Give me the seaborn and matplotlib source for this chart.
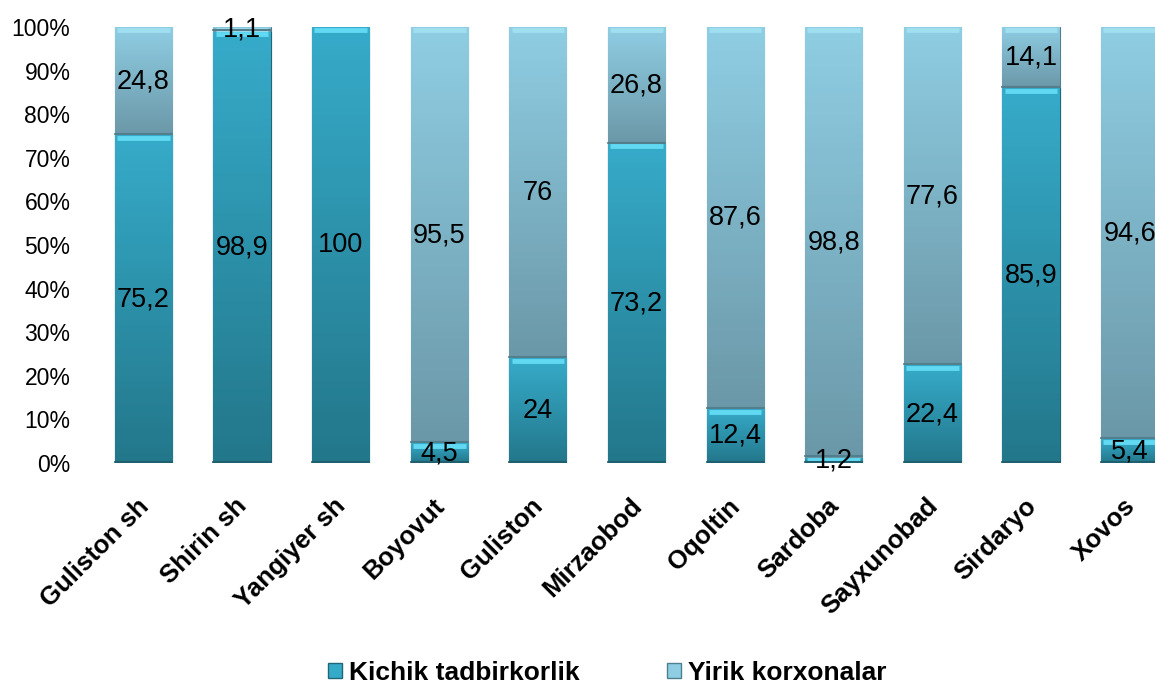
import numpy as np
import pandas as pd
import matplotlib
matplotlib.use('Agg')
import matplotlib.pyplot as plt
import matplotlib.transforms as mtransforms
from matplotlib.colors import LinearSegmentedColormap
from matplotlib.patches import Patch
import seaborn as sns

# ------------------------------------------------------------
# data
# ------------------------------------------------------------
categories = ['Guliston sh', 'Shirin sh', 'Yangiyer sh', 'Boyovut', 'Guliston',
              'Mirzaobod', 'Oqoltin', 'Sardoba', 'Sayxunobad', 'Sirdaryo', 'Xovos']
kichik = [75.2, 98.9, 100, 4.5, 24, 73.2, 12.4, 1.2, 22.4, 85.9, 5.4]
yirik = [24.8, 1.1, 0, 95.5, 76, 26.8, 87.6, 98.8, 77.6, 14.1, 94.6]
series_names = ['Kichik tadbirkorlik', 'Yirik korxonalar']
yticks = list(range(0, 101, 10))

df = pd.DataFrame({'cat': categories, 'kichik': kichik, 'yirik': yirik})
df['total'] = df['kichik'] + df['yirik']

sns.set_style('white')
plt.rcParams['font.family'] = ['Liberation Sans', 'DejaVu Sans']
plt.rcParams['text.color'] = 'black'
plt.rcParams['xtick.color'] = 'black'
plt.rcParams['ytick.color'] = 'black'

K_TOP, K_BOT, K_HI = '#36abc9', '#23778b', '#62d9f2'
Y_TOP, Y_BOT, Y_HI = '#8fcde3', '#6b98a8', '#9fdff0'
cmap_k = LinearSegmentedColormap.from_list('k', [K_BOT, K_TOP])
cmap_y = LinearSegmentedColormap.from_list('y', [Y_BOT, Y_TOP])

fig = plt.figure(figsize=(11.55, 6.84), dpi=100)
ax = fig.add_axes([94 / 1155, 221 / 684, 1085 / 1155, 436 / 684])

# stacked: total (yirik on top) first, then kichik over it
sns.barplot(data=df, x='cat', y='total', color=Y_TOP, width=0.58, ax=ax,
            edgecolor='#4d7f8e', linewidth=0.8)
n = len(df)
sns.barplot(data=df, x='cat', y='kichik', color=K_TOP, width=0.58, ax=ax,
            edgecolor='#1f6676', linewidth=0.8)

grad = np.linspace(0, 1, 64).reshape(-1, 1)
patches = list(ax.patches)
for i, p in enumerate(patches):
    x0, y0, w, h = p.get_x(), p.get_y(), p.get_width(), p.get_height()
    if h <= 0:
        continue
    is_k = i >= n
    if not is_k:
        # yirik segment sits above kichik one
        y0 = kichik[i]
        h = df['total'][i] - kichik[i]
        if h <= 0:
            continue
    z = p.get_zorder() + (1 if is_k else 0)
    im = ax.imshow(grad, extent=[x0, x0 + w, y0, y0 + h], origin='lower',
                   aspect='auto', cmap=cmap_k if is_k else cmap_y, zorder=z + 0.1)
    im.set_clip_path(p)
    # bright bevel at the top of the segment
    ax.plot([x0 + w * 0.04, x0 + w * 0.96], [y0 + h - 0.6, y0 + h - 0.6],
            color=K_HI if is_k else Y_HI, lw=3.5, solid_capstyle='butt', zorder=z + 0.5)
    # darker base line
    ax.plot([x0, x0 + w], [y0 + 0.3, y0 + 0.3], color='#1f5f6e' if is_k else '#537f8d',
            lw=1.5, zorder=z + 0.5)

ax.set_xlim(-0.5, n - 0.5)
ax.set_ylim(0, 100)


def fmt(v):
    return ('%g' % v).replace('.', ',')


for i in range(n):
    if kichik[i] > 0:
        ax.text(i, kichik[i] / 2, fmt(kichik[i]), ha='center', va='center',
                fontsize=19.5, color='black', zorder=10)
    if yirik[i] > 0:
        ax.text(i, kichik[i] + yirik[i] / 2, fmt(yirik[i]), ha='center', va='center',
                fontsize=19.5, color='black', zorder=10)

ax.set_yticks(yticks)
ax.set_yticklabels([f'{v}%' for v in yticks], fontsize=16.5)
ax.set_xticks(range(n))
ax.set_xticklabels([])
# category labels drawn as rotated text, slightly left of and below the bar centre
lab_tr = ax.get_xaxis_transform() + mtransforms.ScaledTranslation(
    -7 / 100, -31 / 100, fig.dpi_scale_trans)
for i, c in enumerate(categories):
    ax.text(i, 0, c, transform=lab_tr, rotation=45, ha='right', va='top',
            rotation_mode='anchor', fontsize=18.5, fontweight='bold', color='black')
ax.tick_params(axis='y', length=0, pad=17)
ax.tick_params(axis='x', length=0)
ax.set_xlabel('')
ax.set_ylabel('')
for s in ax.spines.values():
    s.set_visible(False)

handles = [Patch(facecolor=K_TOP, edgecolor='#1f6676'),
           Patch(facecolor=Y_TOP, edgecolor='#4d7f8e')]
fig.legend(handles, series_names, loc='lower center', bbox_to_anchor=(607 / 1155, -0.036),
           ncol=2, frameon=False, handlelength=0.55, handleheight=0.55, handletextpad=0.25,
           columnspacing=3.3, prop={'weight': 'bold', 'size': 19})

fig.savefig('out.png', dpi=100)
